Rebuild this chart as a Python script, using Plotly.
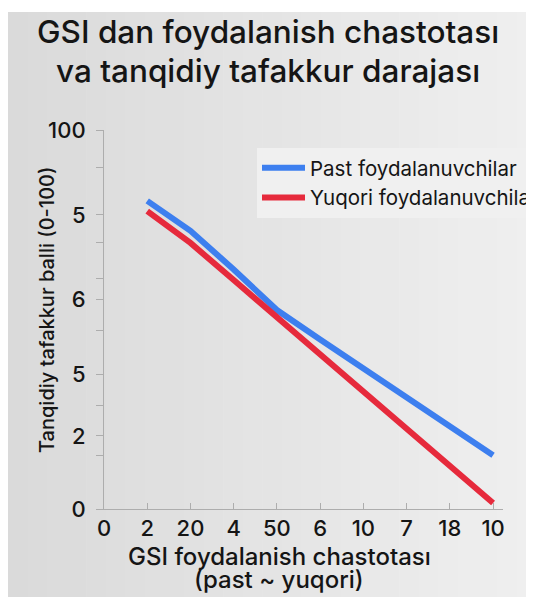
import plotly.graph_objects as go

# ---- data ----
x_labels = ["0", "2", "20", "4", "50", "6", "10", "7", "18", "10"]
x_idx = list(range(len(x_labels)))
series_x = [1, 2, 3, 4, 5, 6, 7, 8, 9]
past_vals = [81.3, 73.4, 63.2, 52.5, 44.7, 37.1, 29.5, 21.9, 14.2]
yuqori_vals = [78.6, 70.2, 60.4, 50.6, 40.8, 31.0, 21.2, 11.4, 1.6]
y_major_pos = [0, 19.3, 35.6, 55.4, 77.6, 100]
y_major_labels = ["0", "2", "5", "6", "5", "100"]
y_minor_pos = [14.2, 27.4, 47.2, 60.9, 70.2, 90.2]
x_grid_pos = [0, 2, 4, 6, 8, 9]
title_lines = ["GSI dan foydalanish chastotası", "va tanqidiy tafakkur darajası"]
x_title_lines = ["GSI foydalanish chastotası", "(past ~ yuqori)"]
y_title = "Tanqidiy tafakkur balli (0-100)"

FONT = "Inter, Noto Sans, sans-serif"
TXT = "#151515"

# page body has an 8px margin, so the figure starts at (8, 8) of the window
W, H = 526, 589
L, R, T = 96, 31, 122
B = H - 501
pw = W - L - R
ph = H - T - B

def px_x(p):
    return (p - L) / pw

def px_y(p):
    return (H - B - p) / ph

fig = go.Figure()
fig.add_trace(go.Scatter(x=series_x, y=past_vals, mode="lines", name="Past foydalanuvchilar",
                         line=dict(color="#3d7fef", width=6), cliponaxis=False))
fig.add_trace(go.Scatter(x=series_x, y=yuqori_vals, mode="lines", name="Yuqori foydalanuvchilar",
                         line=dict(color="#e62a3c", width=6), cliponaxis=False))

all_y_ticks = y_major_pos + y_minor_pos
all_y_text = y_major_labels + [""] * len(y_minor_pos)

def ann(text, x, y, size, angle=0, weight=500):
    return dict(text=text, textangle=angle, showarrow=False,
                xref="paper", yref="paper", x=px_x(x), y=px_y(y),
                xanchor="center", yanchor="middle",
                font=dict(size=size, color=TXT, family=FONT, weight=weight))

# soft left-to-right background gradient made of thin strips
n_strips = 27
strip_w = (W + 2) / n_strips
c0, c1 = 0xDA, 0xEF
bg_shapes = []
for i in range(n_strips):
    c = round(c0 + (c1 - c0) * i / (n_strips - 1))
    col = "#{0:02x}{0:02x}{0:02x}".format(c)
    bg_shapes.append(dict(type="rect", xref="paper", yref="paper", layer="below",
                          x0=px_x(i * strip_w), x1=px_x((i + 1) * strip_w + 0.6),
                          y0=px_y(H + 2), y1=px_y(4),
                          fillcolor=col, line=dict(width=0)))

fig.update_layout(
    width=W, height=H,
    margin=dict(l=L, r=R, t=T, b=B, autoexpand=False),
    paper_bgcolor="white",
    plot_bgcolor="rgba(0,0,0,0)",
    font=dict(family=FONT, color=TXT),
    xaxis=dict(range=[0, 9.23], tickmode="array", tickvals=x_idx, ticktext=x_labels,
               showgrid=False, zeroline=False, showline=True, linecolor="#adadad", linewidth=1,
               ticks="inside", ticklen=6, tickcolor="#adadad",
               tickfont=dict(size=22, color=TXT, family=FONT, weight=500)),
    xaxis2=dict(range=[0, 9.23], overlaying="x", anchor="y", tickmode="array", tickvals=x_grid_pos,
                showgrid=True, gridcolor="#c9c9c9", gridwidth=1, showticklabels=False,
                zeroline=False, showline=False, ticks=""),
    yaxis=dict(range=[0, 100], tickmode="array", tickvals=all_y_ticks, ticktext=all_y_text,
               showgrid=False, zeroline=False, showline=True, linecolor="#adadad", linewidth=1,
               ticks="outside", ticklen=7, tickcolor="#adadad", ticklabelstandoff=6,
               tickfont=dict(size=22, color=TXT, family=FONT, weight=500)),
    yaxis2=dict(range=[0, 100], overlaying="y", anchor="x", tickmode="array", tickvals=y_major_pos,
                showgrid=True, gridcolor="#c9c9c9", gridwidth=1, showticklabels=False,
                zeroline=False, showline=False, ticks=""),
    legend=dict(x=px_x(249), y=px_y(140), xanchor="left", yanchor="top",
                bgcolor="#f0f0f0", borderwidth=0, itemwidth=43,
                font=dict(size=20.5, color=TXT, family=FONT), tracegroupgap=2),
    shapes=bg_shapes,
    annotations=[
        ann(title_lines[0], 259.5, 24, 31.5),
        ann(title_lines[1], 259.5, 63, 31.5),
        ann(y_title, 39, 302, 20, angle=-90),
        ann(x_title_lines[0], 271, 548, 24),
        ann(x_title_lines[1], 271, 571, 24),
    ],
)

fig.write_html("out.html")
